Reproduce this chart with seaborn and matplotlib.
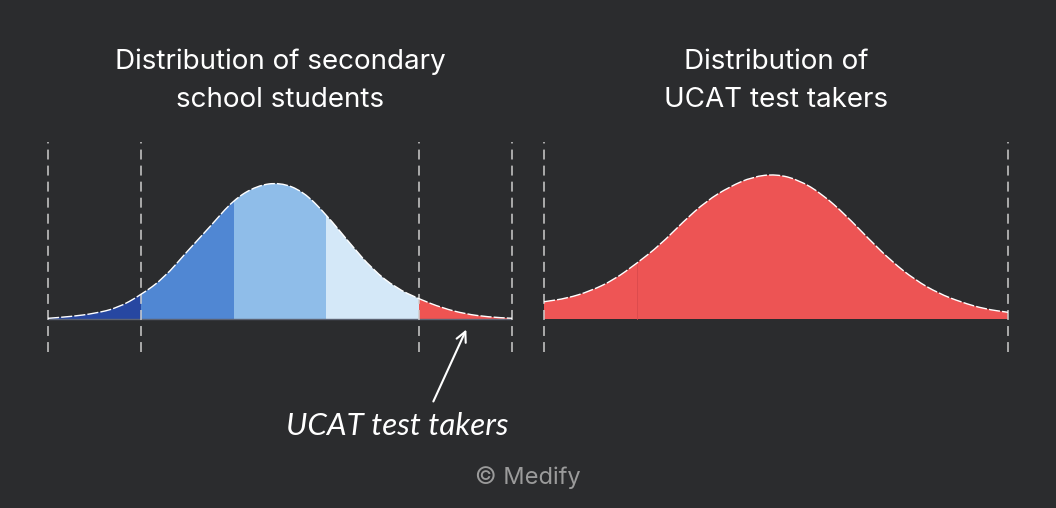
import seaborn as sns
import numpy as np
import matplotlib.pyplot as plt
from matplotlib.path import Path
from matplotlib.patches import PathPatch

# curve heights (px above baseline), one every quarter band
knot_x = [-2.5, -2.25, -2.0, -1.75, -1.5, -1.25, -1.0, -0.75, -0.5, -0.25, 0.0,
          0.25, 0.5, 0.75, 1.0, 1.25, 1.5, 1.75, 2.0, 2.25, 2.5]
school_h = [0.7, 2.5, 5.5, 11, 24, 41, 67.7, 92.7, 119.3, 133.3, 136.7,
            127.7, 104.3, 76, 49.3, 31, 20, 11, 5, 2, 0.7]
ucat_h = [17.3, 20.7, 28, 39, 55.7, 74, 97.3, 118, 132.3, 142.3, 145,
          139, 124.7, 104, 80, 57.3, 39, 25.7, 16.7, 10, 6.7]

band_edges = [-2.5, -1.5, -0.5, 0.5, 1.5, 2.5]
school_colors = ['#2747a1', '#5087d3', '#8fbde9', '#d4e8f8', '#ef5452']
ucat_edges = [-2.5, -1.5, 2.5]
ucat_colors = ['#ee5555', '#ed5454']

titles = ['Distribution of secondary\nschool students', 'Distribution of\nUCAT test takers']
note = 'UCAT test takers'
credit = '\u00a9 Medify'

bg = '#2b2c2e'
sns.set_theme(style='dark', rc={'axes.facecolor': bg, 'figure.facecolor': bg})
plt.rcParams['font.family'] = ['Inter', 'DejaVu Sans']

W, H = 1056, 508
fig = plt.figure(figsize=(W / 100, H / 100), dpi=100)


def curve_path(xs, ys, closed=False):
    xs = np.asarray(xs, float)
    ys = np.asarray(ys, float)
    verts, codes = [], []
    if closed:
        verts += [(xs[0], 0)]
        codes += [Path.MOVETO]
        verts += [(xs[0], ys[0])]
        codes += [Path.LINETO]
    else:
        verts += [(xs[0], ys[0])]
        codes += [Path.MOVETO]
    verts.append(((xs[0] + xs[1]) / 2, (ys[0] + ys[1]) / 2))
    codes.append(Path.LINETO)
    for i in range(1, len(xs) - 1):
        verts.append((xs[i], ys[i]))
        verts.append(((xs[i] + xs[i + 1]) / 2, (ys[i] + ys[i + 1]) / 2))
        codes += [Path.CURVE3, Path.CURVE3]
    verts.append((xs[-1], ys[-1]))
    codes.append(Path.LINETO)
    if closed:
        verts += [(xs[-1], 0), (xs[0], 0)]
        codes += [Path.LINETO, Path.CLOSEPOLY]
    return Path(verts, codes)


def panel(left_px, heights, edges, colors, vlines, title, baseline):
    ax = fig.add_axes([left_px / W, (H - 352) / H, 464 / W, 210 / H])
    ax.set_xlim(-2.5, 2.5)
    ax.set_ylim(-33, 177)
    ax.axis('off')
    shape = PathPatch(curve_path(knot_x, heights, closed=True), transform=ax.transData)
    for lo, hi, c in zip(edges[:-1], edges[1:], colors):
        band = ax.axvspan(lo, hi, color=c, lw=0, zorder=1)
        band.set_clip_path(shape)
    if baseline:
        ax.plot([edges[0], edges[-1]], [0, 0], color='#5c6373', lw=1.0, zorder=2)
    for v in vlines:
        ax.axvline(v, color='#cdcdcd', lw=1.1, ls=(0, (6.5, 4)), clip_on=False, zorder=3)
    outline = PathPatch(curve_path(knot_x, heights), fill=False, edgecolor='white',
                        lw=1.0, ls=(0, (8, 1.5)), zorder=4, transform=ax.transData)
    ax.add_patch(outline)
    fig.text((left_px + 232) / W, 1 - 81 / H, title, ha='center', va='center',
             color='white', fontsize=20, linespacing=1.6)
    return ax


ax1 = panel(48, school_h, band_edges, school_colors, [-2.5, -1.5, 1.5, 2.5], titles[0], True)
ax2 = panel(544, ucat_h, ucat_edges, ucat_colors, [-2.5, 2.5], titles[1], False)
ax2.plot([-1.5, -1.5], [0, 55.7], color='#d94a4c', lw=0.6, zorder=2)

ax1.annotate('', xy=(2.02, -8), xytext=(1.64, -85), annotation_clip=False,
             arrowprops=dict(arrowstyle='->', color='white', lw=1.5,
                             mutation_scale=18))
ax1.text(1.26, -116, note, ha='center', va='baseline', color='white', fontsize=22.5,
         family=['Lato', 'DejaVu Sans'], style='italic')

fig.text(0.5, 1 - 478 / H, credit, ha='center', va='center', color='#9b9b9b', fontsize=17)

fig.savefig('out.png', dpi=100, facecolor=bg)
